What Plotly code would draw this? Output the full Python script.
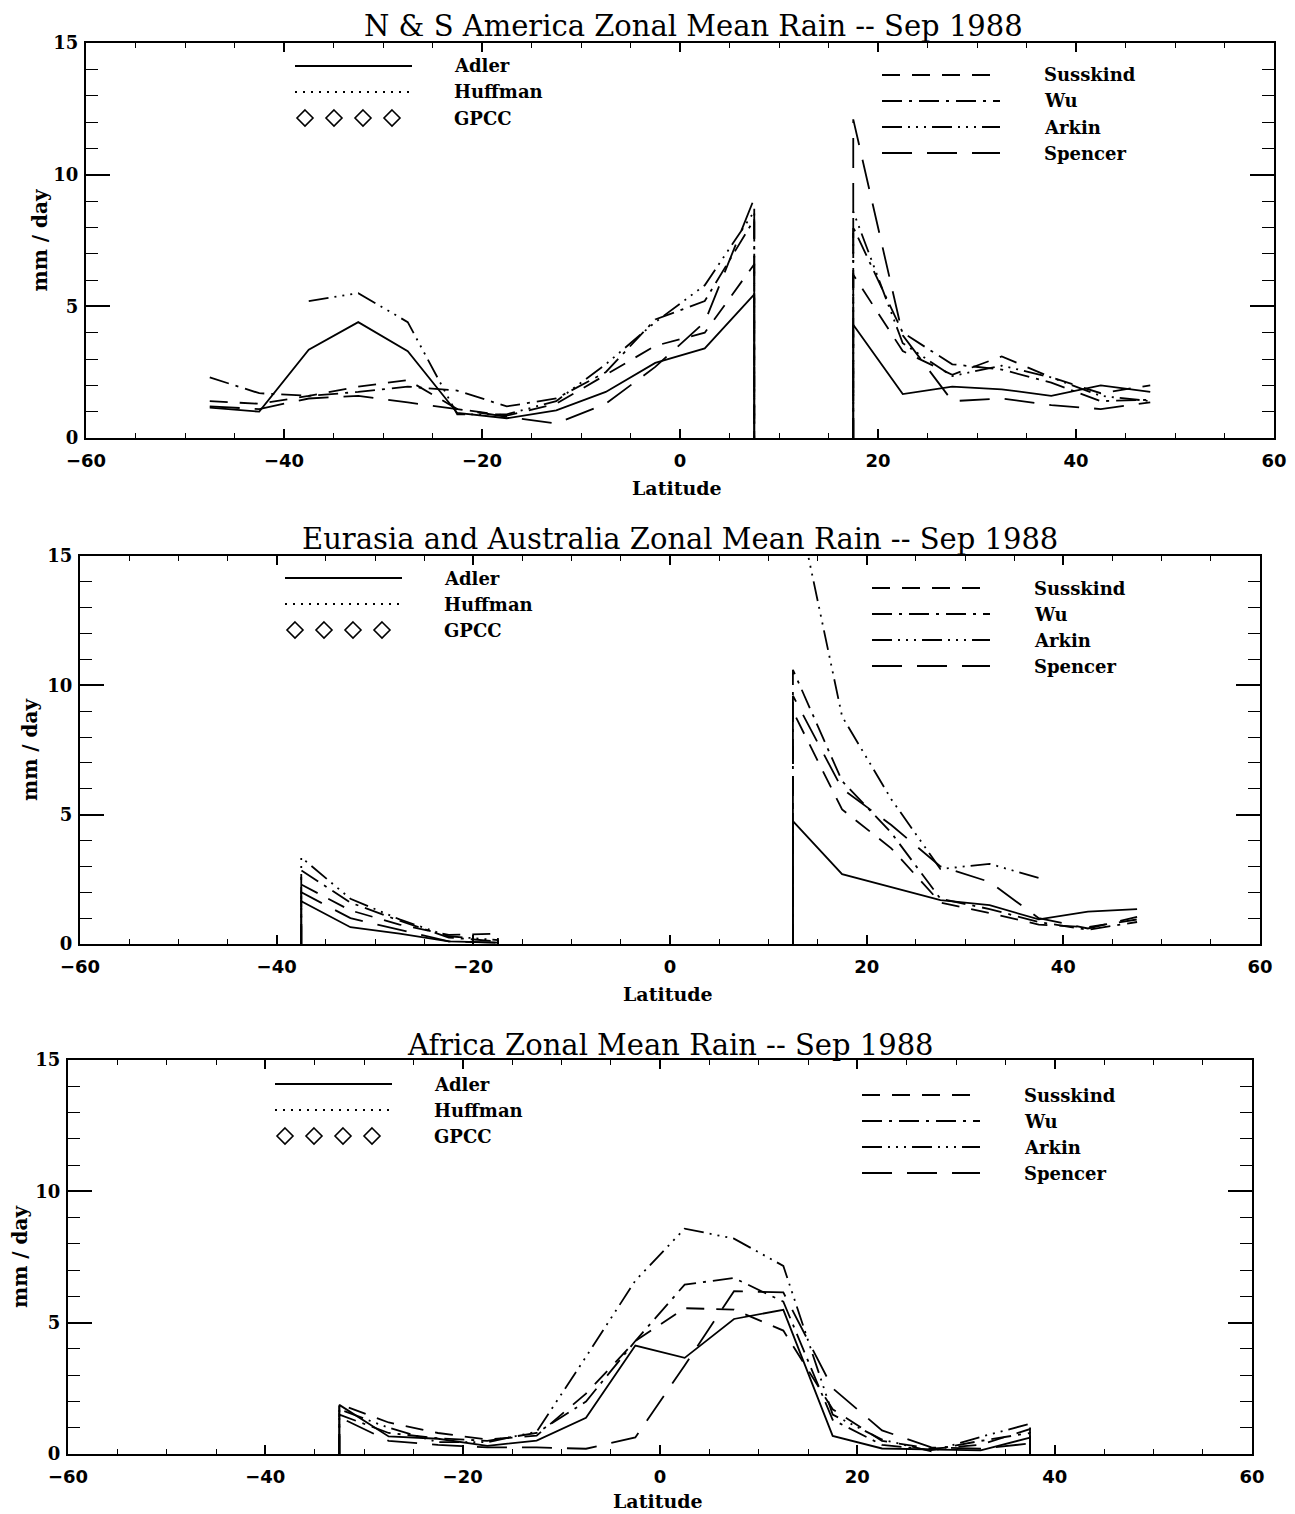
import plotly.graph_objects as go

# page body has an 8px margin; the figure fills the rest of the 1295x1514 window
OFF = 8
W, H = 1295 - OFF, 1514 - OFF

# ---------------- data (mm/day), 5-degree latitude bins ----------------
LAT = [-47.5, -42.5, -37.5, -32.5, -27.5, -22.5, -17.5, -12.5, -7.5, -2.5,
       2.5, 7.5, 12.5, 17.5, 22.5, 27.5, 32.5, 37.5, 42.5, 47.5]
# 0 = no land in the band (curve drops to the axis), None = missing

NSA_ADLER = [1.15, 1.0, 3.35, 4.4, 3.3, 0.95, 0.75, 1.05, 1.75, 2.85,
             3.4, 5.45, 0, 4.3, 1.67, 1.95, 1.85, 1.6, 2.0, 1.75]
NSA_SUSSKIND = [1.4, 1.3, 1.6, 1.95, 2.2, 1.1, 0.85, 1.3, 2.4, 3.5,
                4.0, 6.6, 0, 6.2, 3.3, 2.4, 3.1, 2.3, 1.7, 2.0]
NSA_WU = [2.3, 1.7, 1.6, 1.75, 1.95, 1.8, 1.2, 1.5, 2.5, 4.5,
          5.2, 8.3, 0, 8.0, 4.0, 2.8, 2.6, 2.1, 1.4, 1.45]
NSA_ARKIN = [None, None, 5.2, 5.5, 4.4, 0.9, 0.9, 1.4, 2.8, 4.4,
             5.8, 8.6, 0, 8.6, 3.6, 2.35, 2.75, 2.3, 1.6, 1.4]
NSA_SPENCER = [1.2, 1.1, 1.5, 1.6, 1.35, 1.1, 0.8, 0.55, 1.3, 2.7,
               4.4, 9.1, 0, 12.1, 3.9, 1.4, 1.5, 1.25, 1.1, 1.35]

EUA_ADLER = [0, 0, 1.65, 0.65, 0.4, 0.1, 0.05, 0, 0, 0,
             0, 0, 4.75, 2.7, 2.2, 1.7, 1.5, 0.95, 1.25, 1.35]
EUA_SUSSKIND = [0, 0, 2.3, 1.3, 0.75, 0.35, 0.4, 0, 0, 0,
                0, 0, 9.0, 5.2, 3.7, 1.6, 1.2, 0.75, 0.65, 0.95]
EUA_WU = [0, 0, 2.85, 1.6, 0.9, 0.25, 0.1, 0, 0, 0,
          0, 0, 10.6, 6.3, 4.3, 1.75, 1.35, 0.85, 0.55, 0.85]
EUA_ARKIN = [0, 0, 3.35, 1.75, 0.95, 0.3, 0.15, 0, 0, 0,
             0, None, 17.8, 8.8, 5.6, 2.9, 3.1, 2.55, None, None]
EUA_SPENCER = [0, 0, 2.0, 1.0, 0.55, 0.1, 0.05, 0, 0, 0,
               0, 0, 9.6, 6.0, 4.6, 3.0, 2.4, 1.0, 0.6, 1.05]

AFR_ADLER = [0, 0, 0, 1.87, 0.67, 0.58, 0.31, 0.51, 1.38, 4.13,
             3.66, 5.14, 5.49, 0.69, 0.21, 0.18, 0.14, 0.62, 0, 0]
AFR_SUSSKIND = [0, 0, 0, 1.9, 1.2, 0.8, 0.55, 0.7, 2.3, 4.3,
                5.55, 5.5, 4.7, 1.7, 0.5, 0.2, 0.35, 0.95, 0, 0]
AFR_WU = [0, 0, 0, 1.5, 0.8, 0.6, 0.5, 0.8, 2.0, 4.3,
          6.45, 6.7, 5.8, 1.3, 0.35, 0.15, 0.5, 0.8, 0, 0]
AFR_ARKIN = [0, 0, 0, 1.7, 1.0, 0.45, 0.45, 0.85, 3.7, 6.6,
             8.58, 8.2, 7.16, 1.5, 0.55, 0.1, 0.65, 1.15, 0, 0]
AFR_SPENCER = [0, 0, 0, 1.4, 0.5, 0.35, 0.25, 0.25, 0.2, 0.63,
               3.37, 6.2, 6.15, 2.5, 0.9, 0.25, 0.2, 0.4, 0, 0]

X_TICKS = [-60, -40, -20, 0, 20, 40, 60]
Y_TICKS = [0, 5, 10, 15]

TITLES = ["N & S America Zonal Mean Rain -- Sep 1988",
          "Eurasia and Australia Zonal Mean Rain -- Sep 1988",
          "Africa Zonal Mean Rain -- Sep 1988"]
LEFT_NAMES = ["Adler", "Huffman", "GPCC"]
RIGHT_NAMES = ["Susskind", "Wu", "Arkin", "Spencer"]

# ---------------- styles ----------------
DASH = {
    "Adler": "solid",
    "Huffman": "2px,6px",
    "Susskind": "18px,12px",
    "Wu": "20px,7px,3px,7px",
    "Arkin": "20px,6px,2px,6px,2px,6px,2px,6px",
    "Spencer": "30px,15px",
}

# pixel layout in window coordinates
PANELS = [
    dict(title=TITLES[0], series={"Adler": NSA_ADLER, "Susskind": NSA_SUSSKIND, "Wu": NSA_WU,
                                  "Arkin": NSA_ARKIN, "Spencer": NSA_SPENCER},
         x0=86, x1=1274, top=43, bot=438, tx=693, ty=26, latx=677, laty=488, yt_x=40,
         lleg=(295, 412, 66, 452), rleg=(882, 1000, 75, 1042)),
    dict(title=TITLES[1], series={"Adler": EUA_ADLER, "Susskind": EUA_SUSSKIND, "Wu": EUA_WU,
                                  "Arkin": EUA_ARKIN, "Spencer": EUA_SPENCER},
         x0=80, x1=1260, top=556, bot=944, tx=680, ty=539, latx=668, laty=994, yt_x=30,
         lleg=(285, 402, 578, 442), rleg=(872, 990, 588, 1032)),
    dict(title=TITLES[2], series={"Adler": AFR_ADLER, "Susskind": AFR_SUSSKIND, "Wu": AFR_WU,
                                  "Arkin": AFR_ARKIN, "Spencer": AFR_SPENCER},
         x0=68, x1=1252, top=1060, bot=1454, tx=670, ty=1045, latx=658, laty=1501, yt_x=20,
         lleg=(275, 392, 1084, 432), rleg=(862, 980, 1095, 1022)),
]


def px(x):
    return (x - OFF) / W


def py(y):
    return 1 - (y - OFF) / H


def build_path(vals):
    """Curve through the land bins; at a land/ocean edge the curve drops
    vertically to the axis."""
    xs, ys = [], []
    prev, prev_lat = None, None
    for lat, v in zip(LAT, vals):
        if v is None:
            xs.append(None)
            ys.append(None)
        elif v == 0:
            if prev is not None and prev != 0:
                xs += [prev_lat, None]
                ys += [0, None]
        else:
            if prev is not None and prev == 0:
                xs.append(lat)
                ys.append(0)
            xs.append(lat)
            ys.append(v)
        prev, prev_lat = v, lat
    return xs, ys


fig = go.Figure()
shapes = []
annotations = []

SERIF = "DejaVu Serif"
SANS = "DejaVu Sans"
LINE_W = 1.8

for i, p in enumerate(PANELS, start=1):
    xa = "x" if i == 1 else f"x{i}"
    ya = "y" if i == 1 else f"y{i}"
    for name, vals in p["series"].items():
        xs, ys = build_path(vals)
        fig.add_trace(go.Scatter(x=xs, y=ys, mode="lines", xaxis=xa, yaxis=ya,
                                 line=dict(color="black", width=LINE_W, dash=DASH[name]),
                                 showlegend=False, name=name, hoverinfo="skip"))
    axkey_x = "xaxis" if i == 1 else f"xaxis{i}"
    axkey_y = "yaxis" if i == 1 else f"yaxis{i}"
    fig.update_layout({
        axkey_x: dict(domain=[px(p["x0"]), px(p["x1"])], anchor=ya, range=[-60, 60],
                      automargin=False,
                      tickvals=X_TICKS, ticks="inside", ticklen=9, tickwidth=1.5,
                      tickcolor="black", showline=True, linecolor="black", linewidth=2,
                      mirror="ticks", showgrid=False, zeroline=False,
                      minor=dict(dtick=5, ticks="inside", ticklen=5, tickwidth=1.2,
                                 tickcolor="black", showgrid=False),
                      tickfont=dict(family=SANS, size=18, color="black", weight="bold"),
                      ticklabelstandoff=5),
        axkey_y: dict(domain=[py(p["bot"]), py(p["top"])], anchor=xa, range=[0, 15],
                      automargin=False,
                      tickvals=Y_TICKS, ticks="inside", ticklen=24, tickwidth=1.5,
                      tickcolor="black", showline=True, linecolor="black", linewidth=2,
                      mirror="ticks", showgrid=False, zeroline=False,
                      minor=dict(dtick=1, ticks="inside", ticklen=12, tickwidth=1.2,
                                 tickcolor="black", showgrid=False),
                      tickfont=dict(family=SERIF, size=18, color="black", weight="bold"),
                      ticklabelstandoff=2),
    })
    # titles
    annotations.append(dict(text=p["title"], x=px(p["tx"]), y=py(p["ty"]), xref="paper",
                            yref="paper", showarrow=False, xanchor="center", yanchor="middle",
                            font=dict(family=SERIF, size=29, color="black")))
    annotations.append(dict(text="Latitude", x=px(p["latx"]), y=py(p["laty"]), xref="paper",
                            yref="paper", showarrow=False, xanchor="center", yanchor="middle",
                            font=dict(family=SERIF, size=19, color="black", weight="bold")))
    annotations.append(dict(text="mm / day", x=px(p["yt_x"]), y=py((p["top"] + p["bot"]) / 2),
                            xref="paper", yref="paper", showarrow=False, textangle=-90,
                            xanchor="center", yanchor="middle",
                            font=dict(family=SERIF, size=20, color="black", weight="bold")))
    # left legend block
    lx0, lx1, ly, ltx = p["lleg"]
    for k, name in enumerate(LEFT_NAMES):
        yy = ly + 26 * k
        if name == "GPCC":
            for j in range(4):
                cx = lx0 + 10 + j * 29
                r = 8
                path = (f"M {px(cx)},{py(yy - r)} L {px(cx + r)},{py(yy)} "
                        f"L {px(cx)},{py(yy + r)} L {px(cx - r)},{py(yy)} Z")
                shapes.append(dict(type="path", path=path, xref="paper", yref="paper",
                                   line=dict(color="black", width=1.6)))
        else:
            shapes.append(dict(type="line", x0=px(lx0), x1=px(lx1), y0=py(yy), y1=py(yy),
                               xref="paper", yref="paper",
                               line=dict(color="black", width=LINE_W, dash=DASH[name])))
        annotations.append(dict(text=name, x=px(ltx), y=py(yy), xref="paper", yref="paper",
                                showarrow=False, xanchor="left", yanchor="middle",
                                font=dict(family=SERIF, size=18, color="black", weight="bold")))
    # right legend block
    rx0, rx1, ry, rtx = p["rleg"]
    for k, name in enumerate(RIGHT_NAMES):
        yy = ry + 26 * k
        shapes.append(dict(type="line", x0=px(rx0), x1=px(rx1), y0=py(yy), y1=py(yy),
                           xref="paper", yref="paper",
                           line=dict(color="black", width=LINE_W, dash=DASH[name])))
        annotations.append(dict(text=name, x=px(rtx), y=py(yy), xref="paper", yref="paper",
                                showarrow=False, xanchor="left", yanchor="middle",
                                font=dict(family=SERIF, size=18, color="black", weight="bold")))

fig.update_layout(width=W, height=H,
                  margin=dict(l=0, r=0, t=0, b=0, pad=0, autoexpand=False),
                  template="none",
                  paper_bgcolor="white", plot_bgcolor="white", showlegend=False,
                  shapes=shapes, annotations=annotations)

fig.write_html("out.html")
